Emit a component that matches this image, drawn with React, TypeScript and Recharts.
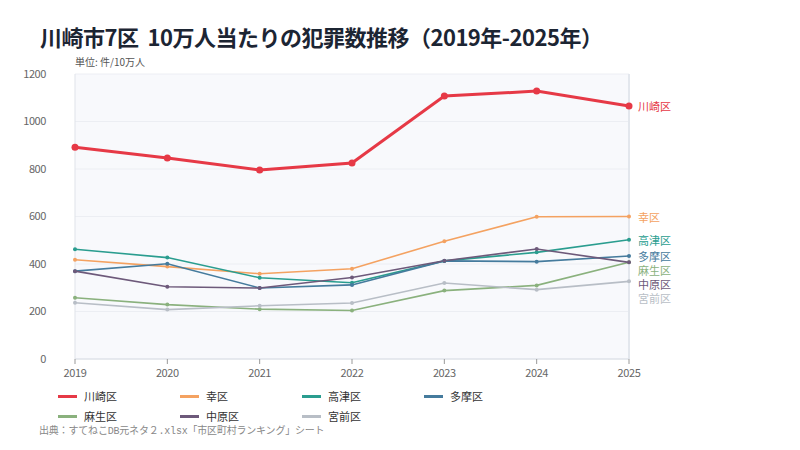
import React from 'react';
import { LineChart, Line, XAxis, YAxis, CartesianGrid, LabelList, ReferenceLine } from 'recharts';

// 10万人当たりの犯罪件数（年別）
const years = [2019, 2020, 2021, 2022, 2023, 2024, 2025];
const kawasaki = [892, 846, 796, 825, 1107, 1128, 1065];
const saiwai = [418, 389, 359, 380, 496, 599, 600];
const takatsu = [462, 427, 342, 321, 413, 449, 502];
const tama = [370, 401, 299, 312, 413, 410, 434];
const asao = [258, 229, 210, 204, 288, 310, 407];
const nakahara = [370, 304, 299, 343, 414, 463, 407];
const miyamae = [237, 208, 224, 236, 320, 292, 327];
const yTicks = [0, 200, 400, 600, 800, 1000, 1200];

const FONT = '"Noto Sans CJK JP", "Noto Sans", sans-serif';
const MONO = '"Liberation Mono", "Noto Sans CJK JP", monospace';

type Series = { key: string; name: string; values: number[]; color: string; width: number; r: number };

const series: Series[] = [
  { key: 'kawasaki', name: '川崎区', values: kawasaki, color: '#e63946', width: 3, r: 3.5 },
  { key: 'saiwai', name: '幸区', values: saiwai, color: '#f4a261', width: 1.6, r: 2 },
  { key: 'takatsu', name: '高津区', values: takatsu, color: '#2a9d8f', width: 1.6, r: 2 },
  { key: 'tama', name: '多摩区', values: tama, color: '#457b9d', width: 1.6, r: 2 },
  { key: 'asao', name: '麻生区', values: asao, color: '#8ab17d', width: 1.6, r: 2 },
  { key: 'nakahara', name: '中原区', values: nakahara, color: '#6d597a', width: 1.6, r: 2 },
  { key: 'miyamae', name: '宮前区', values: miyamae, color: '#b8bec6', width: 1.6, r: 2 },
];

const data = years.map((year, i) => {
  const row: Record<string, number> = { year };
  series.forEach((s) => {
    row[s.key] = s.values[i];
  });
  return row;
});

// plot geometry (used for end-label spacing)
const PLOT_TOP = 74;
const PLOT_BOTTOM = 359;
const Y_MAX = 1200;
const LABEL_GAP = 14;

// push end labels apart so they never overlap
function endLabelOffsets(): number[] {
  const items = series.map((s, i) => ({
    i,
    y: PLOT_TOP + (1 - s.values[s.values.length - 1] / Y_MAX) * (PLOT_BOTTOM - PLOT_TOP),
  }));
  const sorted = [...items].sort((a, b) => a.y - b.y);
  const out = new Array(series.length).fill(0);
  let last = -Infinity;
  for (const it of sorted) {
    const placed = Math.max(it.y, last + LABEL_GAP);
    out[it.i] = placed - it.y;
    last = placed;
  }
  return out;
}
const offsets = endLabelOffsets();

const makeEndLabel = (s: Series, dy: number) => (props: any) => {
  const { x, y, index } = props;
  if (index !== years.length - 1) return null;
  return (
    <text x={x + 9} y={y + dy} dominantBaseline="central" fontSize={11} fill={s.color} fontFamily={FONT}>
      {s.name}
    </text>
  );
};

const tickStyle = { fontSize: 11, fill: '#666', fontFamily: FONT, letterSpacing: -0.4 };

export default function App() {
  return (
    <div style={{ position: 'absolute', left: 0, top: 0, width: 800, height: 450, background: '#fff', fontFamily: FONT }}>
      <div
        style={{
          position: 'absolute',
          left: 40,
          top: 23,
          fontSize: 22,
          lineHeight: '26px',
          fontWeight: 700,
          letterSpacing: -0.5,
          color: '#1c2533',
          whiteSpace: 'pre',
        }}
      >
        川崎市7区  10万人当たりの犯罪数推移（2019年-2025年）
      </div>
      <div style={{ position: 'absolute', left: 75, top: 55, fontSize: 10, lineHeight: '14px', color: '#555' }}>
        単位: 件/10万人
      </div>
      <div style={{ position: 'absolute', left: 0, top: 0 }}>
        <LineChart width={800} height={450} data={data} margin={{ top: 74, right: 171, bottom: 61, left: 35 }}>
          <CartesianGrid fill="#f8f9fc" stroke="#eceef3" vertical={false} />
          <XAxis
            dataKey="year"
            type="category"
            height={30}
            tickSize={5}
            tickMargin={5}
            axisLine={{ stroke: '#d9dde4' }}
            tickLine={{ stroke: '#999' }}
            tick={tickStyle}
            interval={0}
          />
          <YAxis
            width={40}
            domain={[0, 1200]}
            ticks={yTicks}
            tickSize={0}
            tickMargin={29}
            axisLine={{ stroke: '#dfe3e9' }}
            tickLine={false}
            tick={tickStyle}
          />
          <ReferenceLine x={2025} stroke="#e3e7ed" strokeWidth={2} />
          {series.map((s, i) => (
            <Line
              key={s.key}
              dataKey={s.key}
              name={s.name}
              stroke={s.color}
              strokeWidth={s.width}
              dot={{ r: s.r, fill: s.color, stroke: 'none' }}
              activeDot={false}
              isAnimationActive={false}
            >
              <LabelList dataKey={s.key} content={makeEndLabel(s, offsets[i])} />
            </Line>
          ))}
        </LineChart>
      </div>
      {series.map((s, i) => {
        const col = i % 4;
        const row = Math.floor(i / 4);
        return (
          <div
            key={s.key}
            style={{
              position: 'absolute',
              left: 58 + col * 122,
              top: 389 + row * 20,
              height: 14,
              display: 'flex',
              alignItems: 'center',
              fontSize: 11,
              color: '#333',
              whiteSpace: 'nowrap',
            }}
          >
            <span style={{ display: 'inline-block', width: 19, height: 3, background: s.color, marginRight: 7 }} />
            {s.name}
          </div>
        );
      })}
      <div
        style={{
          position: 'absolute',
          left: 39,
          top: 425,
          fontSize: 10,
          lineHeight: '14px',
          letterSpacing: -0.2,
          color: '#888',
          whiteSpace: 'nowrap',
          fontFamily: MONO,
        }}
      >
        出典：すてねこDB元ネタ２.xlsx「市区町村ランキング」シート
      </div>
    </div>
  );
}
